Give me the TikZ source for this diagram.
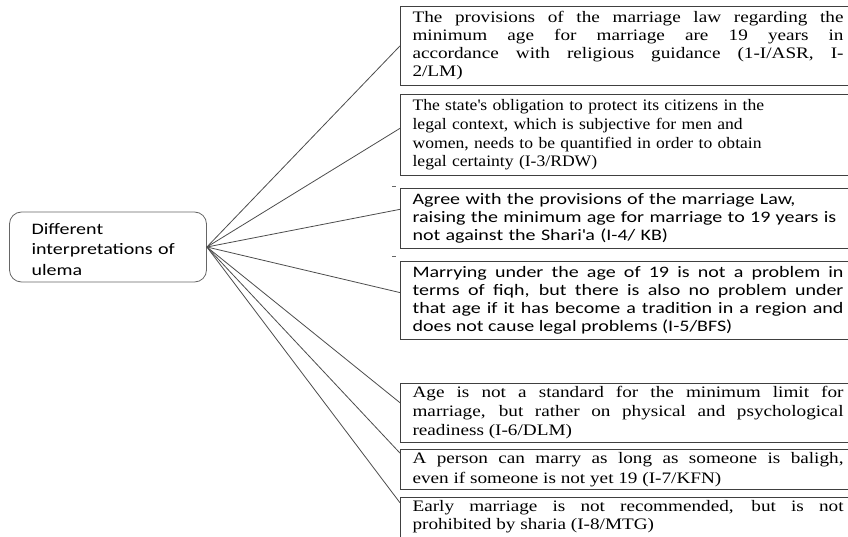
\documentclass[tikz,border=0pt]{standalone}
\usepackage{fontspec}
\setmainfont{Liberation Serif}[FakeStretch=1.2]
\newfontfamily\narrowserif{Liberation Serif}[FakeStretch=1.1]
\newfontfamily\calibrifont{Carlito}[FakeStretch=1.25]
\usetikzlibrary{calc}

\begin{document}
\begin{tikzpicture}[x=1pt, y=-1pt,
        view/.style={draw=black!75, line width=1.1pt, anchor=north west,
            text width=431pt, inner xsep=12pt, inner ysep=5pt,
            font=\fontsize{16}{18}\selectfont, align=justify},
        calview/.style={view, font=\calibrifont\fontsize{16}{18}\selectfont},
        spoke/.style={draw=black!70, line width=0.8pt}]
        \useasboundingbox (0,0) rectangle (848,537);

        \node[draw=black!60, line width=0.8pt, rounded corners=12pt,
            text width=153pt, inner xsep=22pt, minimum height=70pt, align=left,
            font=\calibrifont\fontsize{16}{20.5}\selectfont] (ulema) at (108,247)
            {\raisebox{0pt}[16pt][0pt]{}Different\\ interpretations of\\ ulema};

        \node[view] (v1) at (400,6)
            {The provisions of the marriage law regarding the\linebreak
             minimum age for marriage are 19 years in\linebreak
             accordance with religious guidance (1-I/ASR, I-\linebreak
             2/LM)};
        \node[view, align=left, font=\narrowserif\fontsize{16}{18.7}\selectfont] (v2) at (400,94)
            {The state\textquotesingle s obligation to protect its citizens in the\\
             legal context, which is subjective for men and\\
             women, needs to be quantified in order to obtain\\
             legal certainty (I-3/RDW)};
        \node[calview, align=left] (v3) at (400,188)
            {Agree with the provisions of the marriage Law,\\
             raising the minimum age for marriage to 19 years is\\
             not against the Shari\textquotesingle a (I-4/ KB)};
        \node[calview] (v4) at (400,261)
            {Marrying under the age of 19 is not a problem in\linebreak
             terms of fiqh, but there is also no problem under\linebreak
             that age if it has become a tradition in a region and\linebreak
             does not cause legal problems (I-5/BFS)};
        \node[view, inner ysep=3pt, font=\fontsize{16}{19}\selectfont] (v5) at (400,383)
            {Age is not a standard for the minimum limit for\linebreak
             marriage, but rather on physical and psychological\linebreak
             readiness (I-6/DLM)};
        \node[view, inner ysep=3pt, font=\fontsize{16}{19.5}\selectfont] (v6) at (400,449)
            {A person can marry as long as someone is baligh,\linebreak
             even if someone is not yet 19 (I-7/KFN)};
        \node[view, inner ysep=3pt] (v7) at (400,497)
            {Early marriage is not recommended, but is not\linebreak
             prohibited by sharia (I-8/MTG)\rule[-12pt]{0pt}{12pt}};

        % spokes from the hub
        \foreach \v/\f in {v1/0.5, v2/0.42, v3/0.35, v4/0.4, v5/0.33, v6/0.1, v7/0.12}
            \draw[spoke] (ulema.east) -- ($(\v.north west)!\f!(\v.south west)$);

        % stray ticks
        \draw[black!60] (392,186) -- (396,186);
        \draw[black!60] (392,256) -- (396,256);
\end{tikzpicture}
\end{document}
